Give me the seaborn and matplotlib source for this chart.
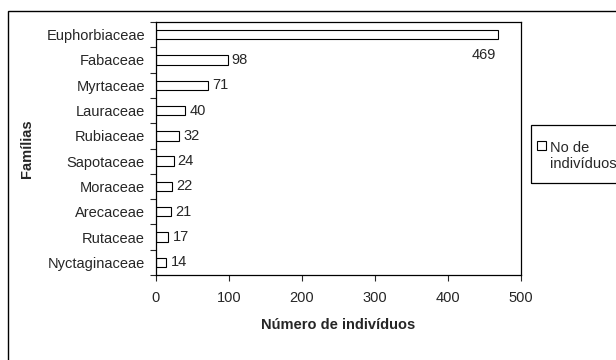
import matplotlib
matplotlib.use('Agg')
import matplotlib.pyplot as plt
import seaborn as sns
from matplotlib.patches import Rectangle
from matplotlib.ticker import FixedLocator

# dados: número de indivíduos por família
familias = ['Euphorbiaceae', 'Fabaceae', 'Myrtaceae', 'Lauraceae', 'Rubiaceae',
            'Sapotaceae', 'Moraceae', 'Arecaceae', 'Rutaceae', 'Nyctaginaceae']
individuos = [469, 98, 71, 40, 32, 24, 22, 21, 17, 14]
xticks = [0, 100, 200, 300, 400, 500]

sns.set_style('white')
plt.rcParams['font.family'] = ['Liberation Sans', 'DejaVu Sans']
fs = 10.5

fig = plt.figure(figsize=(6.16, 3.6), dpi=100)
ax = fig.add_axes([156/616, 1 - 275/360, 365/616, 253/360])

sns.barplot(x=individuos, y=familias, orient='h', color='white',
            edgecolor='black', linewidth=0.8, width=0.37, ax=ax)

ax.set_xlim(0, 500)
ax.set_ylim(len(familias) - 0.5, -0.5)
ax.set_xticks(xticks)

# ticks entre as categorias, como no Excel
ax.yaxis.set_minor_locator(FixedLocator([i - 0.5 for i in range(len(familias) + 1)]))
ax.tick_params(axis='y', which='major', length=0, pad=8, labelsize=fs)
ax.tick_params(axis='y', which='minor', left=True, length=4, width=0.8, direction='out')
ax.tick_params(axis='x', which='major', bottom=True, length=4, width=0.8,
               direction='out', pad=7.5, labelsize=fs)

for s in ax.spines.values():
    s.set_visible(True)
    s.set_color('black')
    s.set_linewidth(0.9)

ax.set_xlabel('Número de indivíduos', fontsize=fs, fontweight='bold')
ax.set_ylabel('Famílias', fontsize=fs, fontweight='bold')
ax.xaxis.set_label_coords(0.5, -0.17)
ax.yaxis.set_label_coords(-0.333, 0.5)

# rótulos de valores
bars = ax.containers[0]
ax.bar_label(bars, labels=[''] + [str(v) for v in individuos[1:]], padding=3, fontsize=fs)
ax.annotate(str(individuos[0]), xy=(individuos[0], 0), xytext=(-2, -15),
            textcoords='offset points', ha='right', va='center', fontsize=fs)

# legenda
fig.patches.append(Rectangle((531/616, 1 - 183/360), 120/616, 58/360,
                             transform=fig.transFigure, fill=False,
                             edgecolor='black', linewidth=0.9))
leg = fig.legend([bars[0]], ['No de\nindivíduos'], loc='upper left',
                 bbox_to_anchor=(537/616, 1 - 141/360), frameon=False,
                 fontsize=fs, handlelength=0.6, handleheight=0.6,
                 handletextpad=0.3, borderpad=0, borderaxespad=0)
# marcador alinhado com a primeira linha do texto
for col in leg._legend_handle_box.get_children():
    for item in col.get_children():
        item.align = 'top'

# moldura externa do gráfico
fig.patches.append(Rectangle((8/616, -0.1), 1.0, 1.1 - 11/360,
                             transform=fig.transFigure, fill=False,
                             edgecolor='black', linewidth=1.0))

fig.savefig('out.png', dpi=100)
